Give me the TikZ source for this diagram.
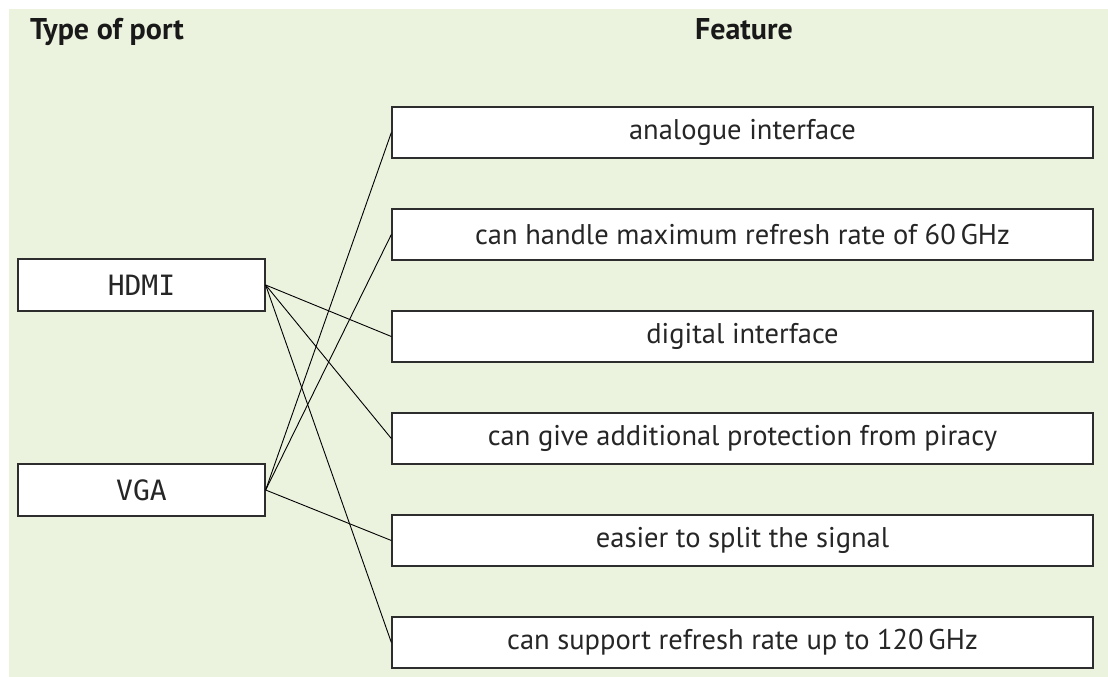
\documentclass[tikz,border=0pt]{standalone}
\usepackage{fontspec}
\setmainfont{PT Sans}
\newfontfamily\portfont{DejaVu Sans Mono}
\definecolor{bgcol}{RGB}{235,243,222}
\definecolor{linecol}{RGB}{45,45,45}
\begin{document}
\begin{tikzpicture}[x=1pt,y=-1pt,
  featbox/.style={draw=linecol,line width=1.3pt,fill=white,minimum width=701pt,minimum height=51pt,inner sep=0pt,
    font=\fontsize{28.5}{32}\selectfont,text=black!85},
  portbox/.style={draw=linecol,line width=1.3pt,fill=white,minimum width=247pt,minimum height=52pt,inner sep=0pt,
    font=\portfont\fontsize{28}{30}\selectfont,text=black!85},
  head/.style={font=\bfseries\fontsize{30}{34}\selectfont,text=black!90,inner sep=0pt},
  conn/.style={draw=black,line width=0.9pt}]
\useasboundingbox (0,0) rectangle (1108,677);
\fill[bgcol] (9,9) rectangle (1108,677);
\node[head,anchor=base west] (h1) at (30,40) {Type of port};
\node[head,anchor=base] (h2) at (744,40) {Feature};
\node[portbox] (hdmi) at (141.5,285) {HDMI};
\node[portbox] (vga) at (141.5,490) {VGA};
\node[featbox] (f1) at (742.5,132.5) {analogue interface};
\node[featbox] (f2) at (742.5,234.5) {can handle maximum refresh rate of 60\,GHz};
\node[featbox] (f3) at (742.5,336.5) {digital interface};
\node[featbox] (f4) at (742.5,438.5) {can give additional protection from piracy};
\node[featbox] (f5) at (742.5,540.5) {easier to split the signal};
\node[featbox] (f6) at (742.5,642.5) {can support refresh rate up to 120\,GHz};
\draw[conn] (hdmi.east) -- (f3.west);
\draw[conn] (hdmi.east) -- (f4.west);
\draw[conn] (hdmi.east) -- (f6.west);
\draw[conn] (vga.east) -- (f1.west);
\draw[conn] (vga.east) -- (f2.west);
\draw[conn] (vga.east) -- (f5.west);
\end{tikzpicture}
\end{document}
